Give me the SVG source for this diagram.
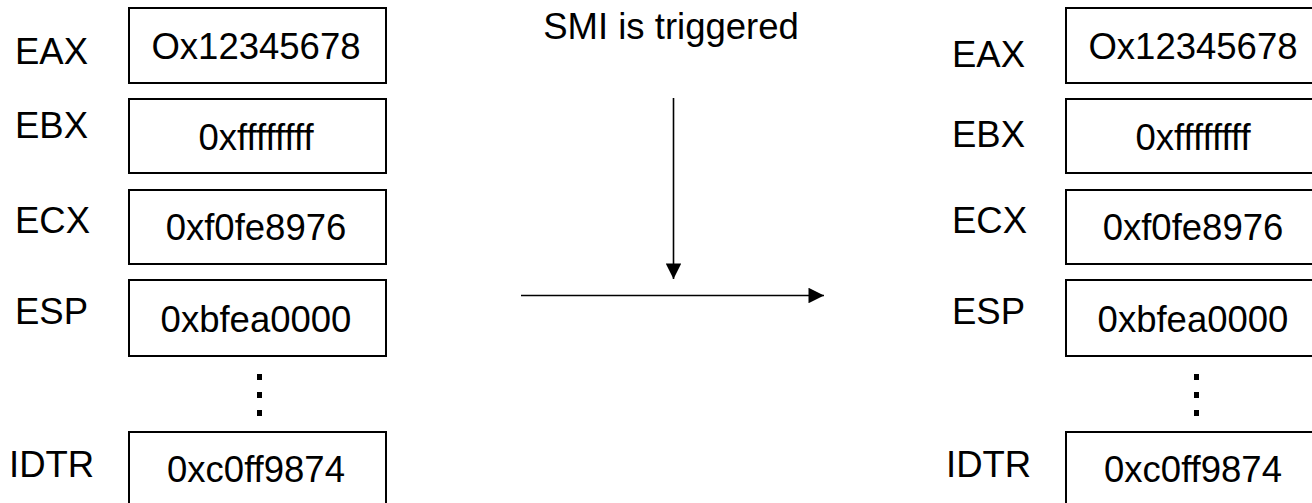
<svg xmlns="http://www.w3.org/2000/svg" width="1312" height="503" viewBox="0 0 1312 503">
<style>
text{font-family:"Liberation Sans",Arial,sans-serif;font-size:36.5px;fill:#000}
.v{text-anchor:middle}
.box{fill:#fff;stroke:#000;stroke-width:2}
.conn{stroke:#000;stroke-width:1.6;fill:none}
</style>
<defs>
<marker id="ah" viewBox="0 0 10 10" refX="10" refY="5" markerUnits="userSpaceOnUse" markerWidth="16" markerHeight="15.5" orient="auto">
<path d="M0,0 L10,5 L0,10 Z" fill="#000"/>
</marker>
</defs>
<rect width="1312" height="503" fill="#fff"/>
<g id="left">
<g id="l-eax"><text x="15" y="64">EAX</text><rect class="box" x="129" y="8" width="257" height="75"/><text class="v" x="256" y="59">Ox12345678</text></g>
<g id="l-ebx"><text x="15" y="138">EBX</text><rect class="box" x="129" y="99" width="257" height="74"/><text class="v" x="256" y="150">0xffffffff</text></g>
<g id="l-ecx"><text x="15" y="233">ECX</text><rect class="box" x="129" y="190" width="257" height="74"/><text class="v" x="256" y="240">0xf0fe8976</text></g>
<g id="l-esp"><text x="15" y="324">ESP</text><rect class="box" x="129" y="280" width="257" height="76"/><text class="v" x="256" y="332">0xbfea0000</text></g>
<g id="l-dots"><rect x="257" y="374" width="5" height="6"/><rect x="257" y="392" width="5" height="6"/><rect x="257" y="410" width="5" height="6"/></g>
<g id="l-idtr"><text x="9" y="477">IDTR</text><rect class="box" x="129" y="432" width="257" height="76"/><text class="v" x="256" y="482">0xc0ff9874</text></g>
</g>
<g id="right" transform="translate(937,0)">
<g id="r-eax"><text x="15" y="67">EAX</text><rect class="box" x="129" y="8" width="257" height="75"/><text class="v" x="256" y="59">Ox12345678</text></g>
<g id="r-ebx"><text x="15" y="147">EBX</text><rect class="box" x="129" y="99" width="257" height="74"/><text class="v" x="256" y="150">0xffffffff</text></g>
<g id="r-ecx"><text x="15" y="233">ECX</text><rect class="box" x="129" y="190" width="257" height="74"/><text class="v" x="256" y="240">0xf0fe8976</text></g>
<g id="r-esp"><text x="15" y="324">ESP</text><rect class="box" x="129" y="280" width="257" height="76"/><text class="v" x="256" y="332">0xbfea0000</text></g>
<g id="r-dots"><rect x="257" y="374" width="5" height="6"/><rect x="257" y="392" width="5" height="6"/><rect x="257" y="410" width="5" height="6"/></g>
<g id="r-idtr"><text x="9" y="477">IDTR</text><rect class="box" x="129" y="432" width="257" height="76"/><text class="v" x="256" y="482">0xc0ff9874</text></g>
</g>
<g id="label"><text class="v" x="671" y="39">SMI is triggered</text></g>
<g id="connectors">
<line class="conn" x1="673.5" y1="98" x2="673.5" y2="279" marker-end="url(#ah)"/>
<line class="conn" x1="521" y1="295.5" x2="824" y2="295.5" marker-end="url(#ah)"/>
</g>
</svg>
